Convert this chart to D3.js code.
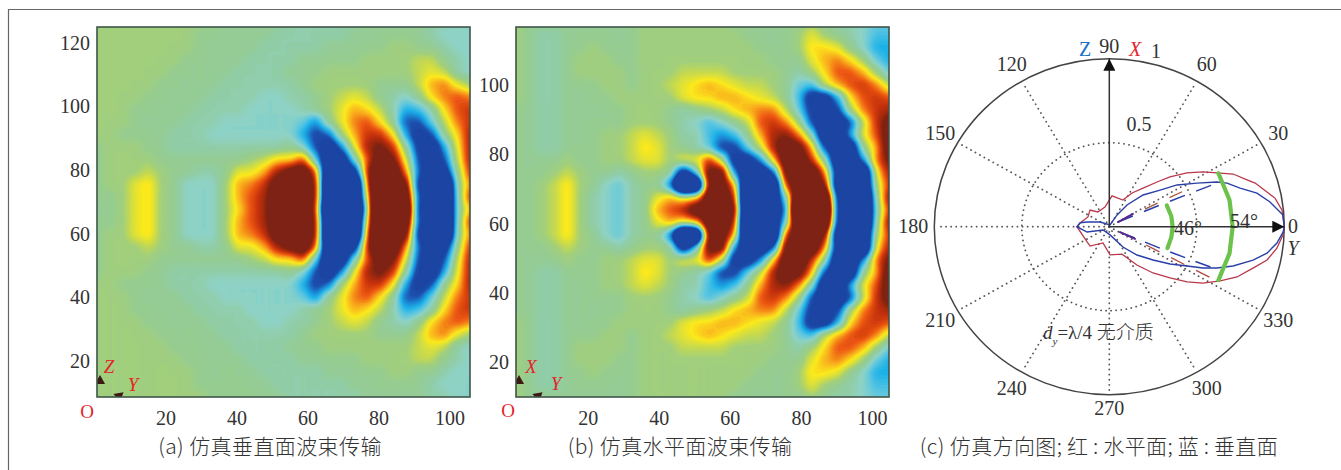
<!DOCTYPE html>
<html>
<head>
<meta charset="utf-8">
<script src="https://cdn.jsdelivr.net/npm/d3@7"></script>
<style>
  html, body { margin: 0; padding: 0; background: #fff; }
  svg { display: block; }
  text { font-family: "Liberation Serif", serif; fill: #333; }
  .caption { font-family: "Noto Sans CJK SC", sans-serif; font-size: 21px; font-weight: 300; fill: #333; text-anchor: middle; letter-spacing: 0.4px; }
  .tick text { font-size: 20px; }
  .red { fill: #e4252b; font-size: 19px; text-anchor: middle; }
</style>
</head>
<body>
<svg id="container" width="1341" height="470"></svg>
<script>
// Field, in tenths of the colour range (saturates at +-10).
// Only the top half down to the beam axis is listed, the pictures are mirror images about it.
var fieldA = [
  [1,1,1,1,1,1,1,1,1,0,0,0,0,0,0,-1,-1,-1,-1,-1,-1,0,0,0,0,0,-1,-1,-2,-2],
  [1,1,1,1,1,1,1,1,0,0,0,0,0,0,-1,-1,-1,-1,-1,-1,0,0,0,0,0,0,-1,-2,-2,-2],
  [1,1,1,1,1,1,1,1,0,0,0,0,0,-1,-1,-1,-1,-1,0,0,0,0,0,1,1,0,0,-1,-2,-2],
  [1,1,1,1,1,1,1,0,0,0,0,0,-1,-1,-1,-1,0,0,0,0,0,1,1,1,1,2,2,0,-1,-2],
  [1,1,1,1,1,1,0,0,0,0,0,-1,-1,-1,-1,0,0,0,1,1,1,1,1,1,1,2,3,2,-1,-2],
  [1,1,1,1,1,0,0,0,0,0,-1,-1,-1,-1,-1,-1,0,1,1,1,1,1,0,0,0,2,5,6,3,1],
  [1,1,1,1,0,0,0,0,0,-1,-1,-1,-1,-2,-2,-1,-1,0,1,2,3,2,0,-1,-2,0,4,6,7,6],
  [1,1,1,0,0,0,0,0,-1,-1,-1,-1,-2,-2,-2,-2,-1,0,1,3,5,4,2,-1,-5,-4,-1,4,7,8],
  [1,1,1,0,0,0,0,-1,-1,-1,-2,-2,-2,-2,-2,-2,-3,-6,0,3,6,7,4,0,-8,-8,-3,2,6,8],
  [1,1,0,0,0,0,-1,-1,-1,-2,-2,-2,-2,-2,-2,-2,-5,-9,-7,1,5,8,8,4,-5,-12,-8,0,4,9],
  [0,1,1,1,0,0,-1,-1,-1,-1,-1,-1,-1,-1,-1,0,-2,-8,-14,-6,3,9,11,8,0,-10,-14,-5,3,9],
  [0,1,1,1,1,0,0,0,0,0,0,0,1,2,4,4,7,-3,-16,-14,-2,7,13,11,3,-8,-15,-8,2,9],
  [0,1,1,1,2,1,0,0,-1,-1,0,3,3,5,9,12,14,7,-20,-15,-12,8,20,15,6,-7,-15,-12,0,8],
  [0,1,1,3,4,1,0,-2,-2,-2,1,5,6,8,13,15,15,10,-25,-15,-25,6,25,15,12,-10,-15,-25,-1,6],
  [0,0,1,3,4,1,0,-2,-2,-2,1,5,7,9,14,15,15,10,-25,-15,-25,3,25,15,16,-8,-15,-25,-2,8],
  [0,0,1,3,4,1,0,-2,-2,-2,1,4,7,9,15,15,15,9,-30,-15,-30,0,30,15,20,-9,-15,-25,-2,5]
];
var fieldB = [
  [1,0,0,0,0,0,0,0,0,0,1,1,1,1,1,1,1,0,0,0,0,0,0,1,0,-1,-1,-2,-3,-3],
  [1,0,-1,-1,0,0,0,0,0,0,1,1,1,1,1,1,1,1,0,0,0,0,1,3,1,0,-1,-2,-4,-4],
  [1,0,-1,-1,0,0,1,0,0,0,1,1,1,1,1,1,1,1,1,0,0,0,1,4,4,3,0,-2,-5,-5],
  [1,0,-1,-1,0,1,1,1,0,0,1,1,1,1,1,1,1,1,1,1,0,0,0,3,5,6,4,1,-3,-5],
  [1,0,-1,-1,0,1,1,1,1,0,1,1,1,2,2,2,2,1,1,1,1,0,-1,1,4,7,7,5,1,-3],
  [1,0,-1,-1,0,0,0,1,1,0,1,1,2,3,4,5,4,3,2,2,1,0,-3,-4,2,5,7,8,6,2],
  [1,0,-1,-1,0,0,0,0,1,1,1,1,1,3,4,4,5,5,4,3,2,0,-4,-12,-12,-5,4,7,8,7],
  [0,0,-1,-1,0,0,0,0,0,1,1,1,0,-1,0,1,2,4,5,6,6,2,-3,-10,-14,-9,1,6,8,9],
  [0,0,-1,-1,0,0,0,0,0,1,1,1,0,-1,-2,-4,-2,0,2,7,8,6,1,-8,-15,-15,-8,2,8,12],
  [0,0,-1,-1,0,0,0,1,1,2,3,2,1,-1,-1,-4,-6,-4,0,5,9,10,6,-1,-15,-15,-5,3,7,13],
  [0,0,-1,-1,0,0,0,1,1,2,4,3,1,0,-1,-3,-9,-9,-3,2,9,14,12,5,-8,-15,-15,0,5,13],
  [0,0,0,0,1,0,0,1,1,2,3,3,1,3,3,8,2,-12,-12,-6,4,14,15,8,0,-15,-15,-6,6,11],
  [0,0,0,1,2,1,0,0,-1,0,1,1,0,-12,-3,12,12,-6,-15,-15,-8,12,15,15,6,-12,-15,-20,3,9],
  [0,0,1,2,4,1,0,-2,-3,-1,0,0,-6,-30,-25,12,13,5,-25,-15,-20,8,15,15,11,-15,-15,-20,1,8],
  [0,0,1,2,4,1,-1,-2,-3,-1,0,3,5,3,4,14,14,9,-30,-15,-15,-2,20,15,20,-10,-15,-25,-1,10],
  [0,0,1,2,4,1,-1,-2,-3,-1,0,5,7,9,14,14,14,12,-30,-15,-15,-6,30,15,26,-10,-15,-25,-2,8]
];

var ticksAX = [20, 40, 60, 80, 100], ticksAY = [20, 40, 60, 80, 100, 120];
var ticksBX = [20, 40, 60, 80, 100], ticksBY = [20, 40, 60, 80, 100];

// Pattern curves, angle in degrees and radius 0-1
var redAngle = [0,3,5.7,10.2,12.9,17.3,19.5,23.9,27.5,31.4,35.8,40.5,44.3,50,57,63.9,85.2,102,126.6,138,154.6,172.5,180,215.6,226.3,249.6,271.4,294,304.7,312.2,318.7,323.5,327.9,333,337.7,343.3,347.6,352.4,357.2,360];
var redR = [1,.994,.992,.962,.924,.873,.835,.774,.693,.627,.547,.456,.381,.3,.239,.177,.184,.12,.109,.148,.135,.168,.185,.156,.159,.103,.168,.179,.277,.372,.462,.553,.631,.711,.789,.857,.923,.966,.994,1];
var blueAngle = [0,4,9.1,13.3,17.1,21.1,23.4,27.4,32.7,36.9,44.4,51.9,57.8,68,152,167.6,172,180,194,209,275,302.8,313.2,321.6,327.4,332.2,335.3,338.2,341.7,346.4,350.1,354.2,358.2,360];
var blueR = [1,.995,.93,.867,.782,.721,.67,.564,.46,.363,.27,.164,.083,.011,.06,.13,.168,.185,.131,.041,.049,.144,.231,.319,.412,.502,.589,.662,.745,.845,.915,.963,.994,1];
var dashBlueUpA = [29,24,22.9], dashBlueUpR = [.057,.317,.668];
var dashRedUpA = [27.2,26.5], dashRedUpR = [.229,.503];
var dashPurpleUpA = [29,29.4], dashPurpleUpR = [.057,.155];
var dashBlueDownA = [332.3,336.2,337.5], dashBlueDownR = [.069,.329,.642];
var dashRedDownA = [332.6,332.3], dashRedDownR = [.237,.682];
var dashPurpleDownA = [332.3,333.6], dashPurpleDownR = [.069,.164];
var greenOuterA = [27,13,0,-13,-27], greenOuterR = [.7,.705,.705,.705,.7];
var greenInnerA = [21,10,0,-10,-21], greenInnerR = [.352,.36,.362,.36,.356];
var spokeAngles = [30,60,120,150,180,210,240,270,300,330];
var angleLabels = [0,30,60,90,120,150,180,210,240,270,300,330];

var colorStops = [-10,-8,-6.5,-5,-3.5,-2,-1,0,1,2,3.5,5,6.5,8,10];
var colorValues = ["#1b45a3","#1c50ae","#1f84d2","#1fb2e8","#5cc6e0","#8ed2c6","#90cda6","#96cc90","#a2cf7c","#c8da4c","#fbe91c","#f8a81c","#ee5a12","#c4300f","#7f2412"];
var color = d3.scaleLinear().domain(colorStops).range(colorValues).clamp(true);

var svg = d3.select("#container");
var defs = svg.append("defs");

defs.append("filter").attr("id", "soft")
    .append("feGaussianBlur").attr("stdDeviation", 0.6);
defs.append("marker").attr("id", "head")
    .attr("viewBox", "0 0 10 10").attr("refX", 10).attr("refY", 5)
    .attr("markerUnits", "userSpaceOnUse").attr("markerWidth", 17).attr("markerHeight", 12)
    .attr("orient", "auto")
    .append("path").attr("d", "M0,0L10,5L0,10z").attr("fill", "#111");

// outer page frame
svg.append("line").attr("x1", 8.5).attr("y1", 9).attr("x2", 8.5).attr("y2", 470).attr("stroke", "#666").attr("stroke-width", 1.2);
svg.append("line").attr("x1", 8).attr("y1", 9.5).attr("x2", 1341).attr("y2", 9.5).attr("stroke", "#666").attr("stroke-width", 1.2);


function drawField (id, half, box, xDomain, yDomain, xTicks, yTicks) {
  var rows = half.concat(half.slice(0, -1).reverse())
    , k = 4   // each node becomes k*k sub cells so the contours come out round
    , nc = rows[0].length, nr = rows.length
    , w = nc * k, h = nr * k
    , values = new Float64Array(w * h)
    , levels = d3.range(-10, 10.01, 0.25)
    ;

  for (var j = 0; j < h; j += 1) {
    for (var i = 0; i < w; i += 1) {
      values[j * w + i] = rows[Math.floor(j / k)][Math.floor(i / k)];
    }
  }
  d3.blur2({data: values, width: w, height: h}, 1);

  var gx = d3.scaleLinear().domain([0.5 * k, (nc - 0.5) * k]).range([box.left, box.right]);
  var gy = d3.scaleLinear().domain([0.5 * k, (nr - 0.5) * k]).range([box.mid - 15 * 12.5, box.mid + 15 * 12.5]);
  var path = d3.geoPath(d3.geoTransform({
    point: function (x, y) { this.stream.point(gx(x), gy(y)); }
  }));

  defs.append("clipPath").attr("id", "clip" + id)
      .append("rect").attr("x", box.left).attr("y", box.top)
      .attr("width", box.right - box.left).attr("height", box.bottom - box.top);

  var clipped = svg.append("g").attr("clip-path", "url(#clip" + id + ")");
  var g = clipped.append("g").attr("filter", "url(#soft)");
  g.append("rect").attr("x", box.left - 5).attr("y", box.top - 5)
   .attr("width", box.right - box.left + 10).attr("height", box.bottom - box.top + 10)
   .attr("fill", color(-10));
  g.selectAll("path")
   .data(d3.contours().size([w, h]).thresholds(levels)(values))
   .enter().append("path")
   .attr("d", path)
   .attr("fill", function (d) { return color(d.value); });

  // little axis triangles in the corner
  [[box.left + 3, box.bottom - 16, 0], [box.left + 22, box.bottom - 1, 50]].forEach(function (t) {
    clipped.append("path")
           .attr("d", d3.symbol().type(d3.symbolTriangle).size(45))
           .attr("transform", "translate(" + t[0] + "," + t[1] + ") rotate(" + t[2] + ")")
           .attr("fill", "#3a1a12");
  });

  svg.append("rect").attr("x", box.left).attr("y", box.top)
     .attr("width", box.right - box.left).attr("height", box.bottom - box.top)
     .attr("fill", "none").attr("stroke", "#3f5548").attr("stroke-width", 1.6);

  var x = d3.scaleLinear().domain(xDomain).range([box.left, box.right]);
  var y = d3.scaleLinear().domain(yDomain).range([box.bottom, box.top]);
  svg.append("g").attr("transform", "translate(0," + (box.bottom + 14) + ")")
     .call(d3.axisBottom(x).tickValues(xTicks).tickSize(0).tickPadding(0))
     .call(function (a) { a.select(".domain").remove(); });
  svg.append("g").attr("transform", "translate(" + (box.left - 7) + ",0)")
     .call(d3.axisLeft(y).tickValues(yTicks).tickSize(0).tickPadding(0))
     .call(function (a) { a.select(".domain").remove(); });
}

drawField("a", fieldA, {left: 97, right: 470, top: 27, bottom: 397, mid: 209.3}, [0.7, 105.8], [8.7, 125], ticksAX, ticksAY);
drawField("b", fieldB, {left: 516, right: 889, top: 27, bottom: 397, mid: 210}, [-0.17, 104.8], [9.9, 116.8], ticksBX, ticksBY);

function redLabel (x, y, s, italic) {
  svg.append("text").attr("class", "red").attr("x", x).attr("y", y)
     .style("font-style", italic ? "italic" : "normal").text(s);
}
redLabel(109, 373, "Z", true);
redLabel(133, 391, "Y", true);
redLabel(87, 418, "O");
redLabel(531, 373, "X", true);
redLabel(556, 390, "Y", true);
redLabel(508, 417, "O");


// ============================================================
// Polar pattern

var cx = 1109.3, cy = 226.7
  , rX = d3.scaleLinear().domain([0, 1]).range([0, 175])
  , rY = d3.scaleLinear().domain([0, 1]).range([0, 168])
  ;

function px (a, r) { return cx + rX(r) * Math.cos(a * Math.PI / 180); }
function py (a, r) { return cy - rY(r) * Math.sin(a * Math.PI / 180); }

var polarLine = d3.line()
  .x(function (d) { return px(d[0], d[1]); })
  .y(function (d) { return py(d[0], d[1]); });

svg.append("ellipse").attr("cx", cx).attr("cy", cy).attr("rx", rX(1)).attr("ry", rY(1))
   .attr("fill", "none").attr("stroke", "#444").attr("stroke-width", 1.5);
svg.append("ellipse").attr("cx", cx).attr("cy", cy).attr("rx", rX(0.5)).attr("ry", rY(0.5))
   .attr("fill", "none").attr("stroke", "#555").attr("stroke-width", 1.8)
   .attr("stroke-linecap", "round").attr("stroke-dasharray", "0.1 5");

svg.selectAll(".spoke").data(spokeAngles).enter().append("line")
   .attr("class", "spoke")
   .attr("x1", cx).attr("y1", cy)
   .attr("x2", function (a) { return px(a, 0.98); })
   .attr("y2", function (a) { return py(a, 0.98); })
   .attr("stroke", "#555").attr("stroke-width", 1.8)
   .attr("stroke-linecap", "round").attr("stroke-dasharray", "0.1 5");

function curve (angles, radii, stroke, width, dash) {
  svg.append("path")
     .attr("d", polarLine(d3.zip(angles, radii)))
     .attr("fill", "none").attr("stroke", stroke).attr("stroke-width", width)
     .attr("stroke-dasharray", dash || null).attr("stroke-linecap", dash ? "butt" : "round");
}

curve(redAngle, redR, "#b8384a", 1.3);
curve(dashRedUpA, dashRedUpR, "#a8583a", 1.3, "14 13");
curve(dashRedDownA, dashRedDownR, "#b04a40", 1.3, "15 13");
curve(blueAngle, blueR, "#2a3fa8", 1.4);
curve(dashBlueUpA, dashBlueUpR, "#2a3fa8", 1.5, "16 12");
curve(dashBlueDownA, dashBlueDownR, "#2a3fa8", 1.5, "16 11");
curve(dashPurpleUpA, dashPurpleUpR, "#5a2a90", 2);
curve(dashPurpleDownA, dashPurpleDownR, "#5a2a90", 2);
curve(greenOuterA, greenOuterR, "#6cc24a", 4.2);
curve(greenInnerA, greenInnerR, "#6cc24a", 4.2);

[[0, 1], [90, 1]].forEach(function (d) {
  svg.append("line").attr("x1", cx).attr("y1", cy)
     .attr("x2", px(d[0], d[1])).attr("y2", py(d[0], d[1]))
     .attr("stroke", "#333").attr("stroke-width", 1.5)
     .attr("marker-end", "url(#head)");
});

// angle labels, slightly closer in on the axes
var labelR = {0: 1.05, 90: 1.075, 180: 1.12, 270: 1.085};
svg.selectAll(".ang").data(angleLabels).enter().append("text")
   .attr("class", "ang")
   .attr("x", function (a) { return px(a, labelR[a] || 1.115); })
   .attr("y", function (a) { return py(a, labelR[a] || 1.115) + 6.5; })
   .attr("text-anchor", "middle").style("font-size", "20px")
   .text(function (a) { return a; });

function plain (x, y, s, fill, italic, size) {
  svg.append("text").attr("x", x).attr("y", y).attr("text-anchor", "middle")
     .style("fill", fill || "#333").style("font-size", (size || 20) + "px")
     .style("font-style", italic ? "italic" : "normal").text(s);
}
plain(1139, 131, "0.5");
plain(1156, 58, "1");
plain(1085, 56, "Z", "#1672c4");
plain(1135, 56, "X", "#e4252b", true);
plain(1293, 255, "Y", "#333", true);
plain(1188, 235, "46°");
plain(1244, 228, "54°");

var dyLabel = svg.append("text").attr("x", 1043).attr("y", 339).style("font-size", "19px");
dyLabel.append("tspan").style("font-style", "italic").text("d");
dyLabel.append("tspan").style("font-style", "italic").style("font-size", "11px").attr("dy", 6).text("y");
dyLabel.append("tspan").attr("dy", -6).text("=λ/4 ");
dyLabel.append("tspan").style("font-family", "'Noto Sans CJK SC'").style("font-weight", 300).text("无介质");

// captions
svg.append("text").attr("class", "caption").attr("x", 270).attr("y", 454).text("(a) 仿真垂直面波束传输");
svg.append("text").attr("class", "caption").attr("x", 680).attr("y", 454).text("(b) 仿真水平面波束传输");
svg.append("text").attr("class", "caption").attr("x", 1099).attr("y", 454).text("(c) 仿真方向图;\u2009红\u2009:\u2009水平面;\u2009蓝\u2009:\u2009垂直面");
</script>
</body>
</html>
